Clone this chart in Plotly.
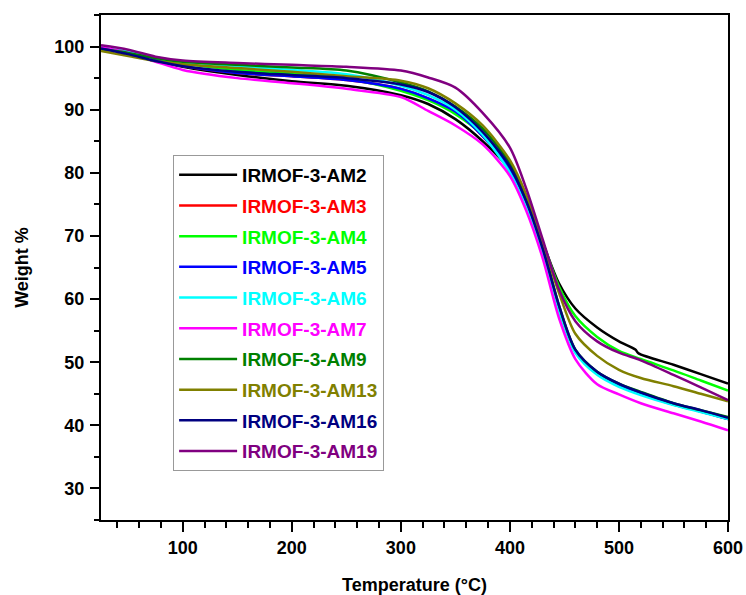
import plotly.graph_objects as go

# Temperature grid (°C)
temps = [25, 50, 75, 100, 150, 200, 250, 300, 325, 350, 375, 400, 415, 430, 445, 460, 480, 500, 520, 550, 575, 600]
temps_am2 = [25, 50, 75, 100, 150, 200, 250, 300, 325, 350, 375, 400, 415, 430, 445, 460, 480, 500, 515, 518, 550, 575, 600]

names = ["IRMOF-3-AM2", "IRMOF-3-AM3", "IRMOF-3-AM4", "IRMOF-3-AM5", "IRMOF-3-AM6",
         "IRMOF-3-AM7", "IRMOF-3-AM9", "IRMOF-3-AM13", "IRMOF-3-AM16", "IRMOF-3-AM19"]
colors = ["#000000", "#FF0000", "#00FF00", "#0000FF", "#00FFFF",
          "#FF00FF", "#008000", "#808000", "#000080", "#800080"]

am2 = [99.8, 98.9, 97.7, 96.8, 95.5, 94.5, 93.8, 92.3, 90.9, 88.5, 85.0, 80.5, 75.5, 69.0, 62.5, 58.5, 55.5, 53.3, 52.0, 51.4, 49.6, 48.1, 46.6]
am3 = [99.8, 98.9, 97.8, 96.9, 95.8, 95.3, 94.7, 93.3, 91.8, 89.7, 85.8, 80.5, 75.0, 67.5, 58.5, 51.8, 48.2, 46.3, 45.0, 43.3, 42.2, 41.0]
am4 = [99.7, 99.0, 98.0, 97.3, 96.3, 95.7, 94.9, 93.0, 91.5, 89.3, 86.0, 81.0, 76.0, 69.0, 62.0, 57.3, 54.0, 51.8, 50.5, 48.7, 47.1, 45.5]
am5 = [99.8, 98.9, 97.8, 96.9, 95.8, 95.3, 94.7, 93.3, 91.8, 89.7, 85.8, 80.5, 75.0, 67.5, 58.5, 51.8, 48.2, 46.3, 45.0, 43.3, 42.2, 41.0]
am6 = [99.8, 99.2, 98.3, 97.6, 96.9, 96.3, 95.6, 93.8, 92.3, 90.0, 86.0, 80.0, 74.5, 67.0, 58.0, 51.5, 48.0, 46.1, 44.8, 43.2, 42.1, 41.0]
am7 = [99.9, 99.0, 97.6, 96.3, 95.0, 94.2, 93.3, 92.0, 89.8, 87.5, 84.5, 79.5, 74.0, 66.5, 57.0, 50.5, 46.5, 44.9, 43.5, 41.9, 40.6, 39.2]
am9 = [99.6, 99.0, 98.2, 97.6, 97.1, 96.7, 96.2, 94.3, 92.9, 90.5, 87.0, 81.5, 76.0, 68.5, 59.0, 52.0, 48.5, 46.6, 45.3, 43.5, 42.4, 41.3]
am13 = [99.3, 98.5, 97.7, 97.2, 96.6, 96.0, 95.3, 94.6, 93.4, 91.0, 87.5, 82.0, 76.5, 69.0, 61.0, 54.5, 51.0, 48.8, 47.5, 46.2, 45.0, 43.8]
am16 = [99.7, 98.8, 97.7, 96.9, 96.0, 95.5, 95.0, 94.0, 92.8, 90.4, 86.5, 81.0, 75.5, 68.0, 59.0, 52.0, 48.5, 46.6, 45.2, 43.5, 42.4, 41.2]
am19 = [100.2, 99.5, 98.4, 97.8, 97.4, 97.1, 96.8, 96.2, 95.1, 93.5, 89.5, 84.0, 77.5, 69.5, 61.5, 56.5, 53.3, 51.5, 50.3, 48.0, 46.0, 44.0]

series = [am2, am3, am4, am5, am6, am7, am9, am13, am16, am19]

FONT = "Liberation Sans, Arial, sans-serif"

fig = go.Figure()
for i, (nm, col, ys) in enumerate(zip(names, colors, series)):
    xs = temps_am2 if i == 0 else temps
    fig.add_trace(go.Scatter(
        x=xs, y=ys, mode="lines",
        line=dict(color=col, width=2.5, shape="spline", smoothing=0.8),
        name=f"<span style='color:{col}'>{nm}</span>",
        legendgroup=f"g{i}",
    ))

fig.update_layout(
    width=746, height=595,
    margin=dict(l=101, r=18, t=15, b=75),
    paper_bgcolor="white", plot_bgcolor="white",
    font=dict(family=FONT, size=18, color="black", weight="bold"),
    showlegend=True,
    legend=dict(
        x=0.115, y=0.723, xanchor="left", yanchor="top",
        bgcolor="white", bordercolor="#999999", borderwidth=1,
        font=dict(family=FONT, size=19, weight="bold"),
        tracegroupgap=3,
        itemwidth=58,
    ),
)

fig.update_xaxes(
    range=[25, 600], tickmode="linear", tick0=0, dtick=100, automargin=False,
    showline=True, linecolor="black", linewidth=2, mirror=True,
    ticks="outside", ticklen=10, tickwidth=2, tickcolor="black",
    minor=dict(dtick=20, tick0=0, ticks="outside", ticklen=6, tickwidth=2, tickcolor="black"),
    showgrid=False, zeroline=False,
    tickfont=dict(family=FONT, size=18, weight="bold"),
    title=dict(text="Temperature (°C)", standoff=24,
               font=dict(family=FONT, size=18, weight="bold")),
)
fig.update_yaxes(
    range=[25, 105], tickmode="linear", tick0=0, dtick=10, automargin=False,
    showline=True, linecolor="black", linewidth=2, mirror=True,
    ticks="outside", ticklen=9, tickwidth=2, tickcolor="black",
    ticklabelstandoff=2,
    minor=dict(dtick=5, tick0=0, ticks="outside", ticklen=5, tickwidth=2, tickcolor="black"),
    showgrid=False, zeroline=False,
    tickfont=dict(family=FONT, size=18, weight="bold"),
    title=dict(text="Weight %", standoff=21,
               font=dict(family=FONT, size=18, weight="bold")),
)

fig.write_html("out.html")
